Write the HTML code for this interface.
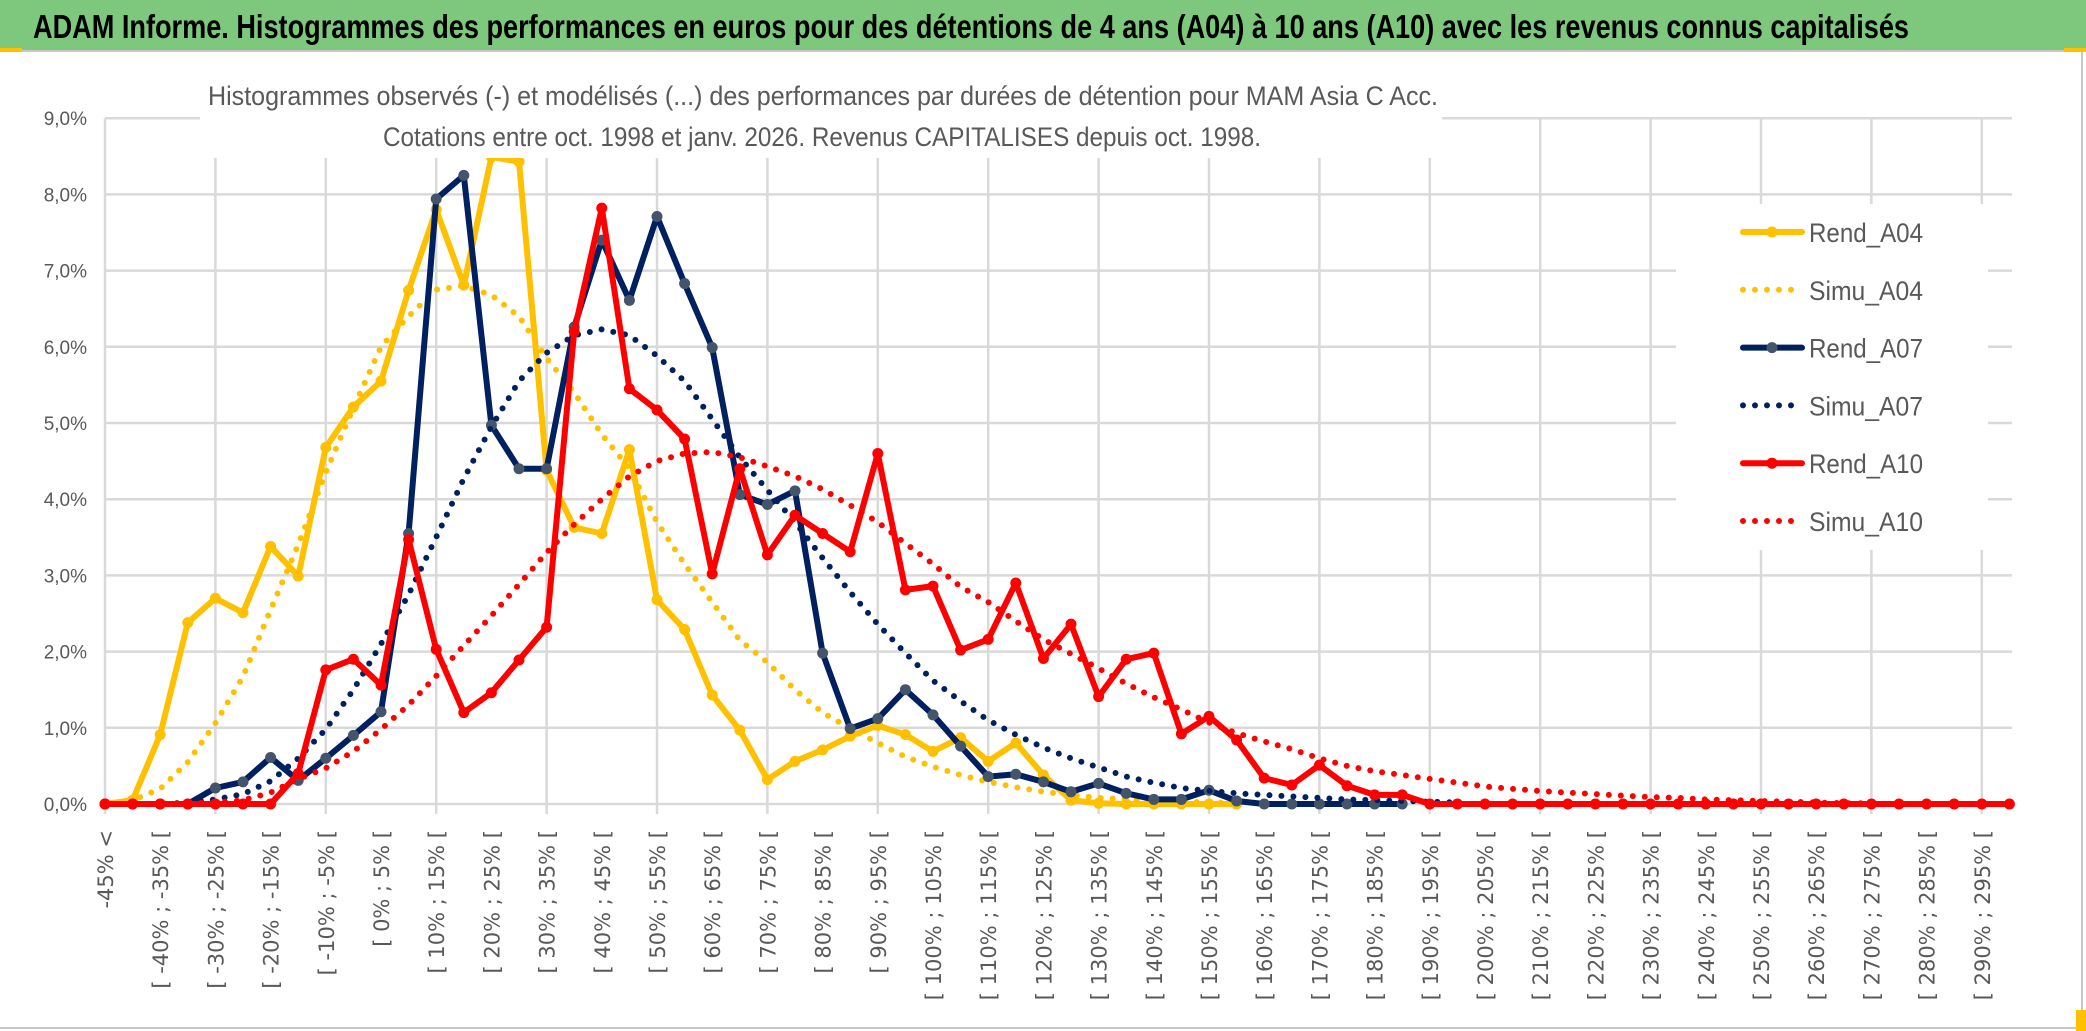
<!DOCTYPE html>
<html><head><meta charset="utf-8"><style>
html,body{margin:0;padding:0;background:#fff;}
svg{display:block;font-family:"Liberation Sans",sans-serif;}
</style></head><body>
<svg id="chart" width="2086" height="1031" viewBox="0 0 2086 1031" xmlns="http://www.w3.org/2000/svg">
<rect x="0" y="0" width="2086" height="1031" fill="#fff"/>
<rect x="0" y="0" width="2086" height="50" fill="#7ec87e"/>
<line x1="0" y1="51" x2="2086" y2="51" stroke="#c8c8c8" stroke-width="2"/>
<text x="33" y="38" font-size="33" font-weight="bold" fill="#000" textLength="1876" lengthAdjust="spacingAndGlyphs">ADAM Informe. Histogrammes des performances en euros pour des détentions de 4 ans (A04) à 10 ans (A10) avec les revenus connus capitalisés</text>
<rect x="0" y="48" width="22" height="4" fill="#ffc000"/>
<line x1="0" y1="1028" x2="2086" y2="1028" stroke="#c8c8c8" stroke-width="2"/>
<line x1="2082" y1="52" x2="2082" y2="1028" stroke="#c8c8c8" stroke-width="2"/>
<rect x="2076" y="1010" width="10" height="21" fill="#ffc000"/>
<rect x="2064" y="48" width="22" height="4" fill="#ffc000"/>
<g id="grid"></g>
<g id="series"></g>
<g id="axes"></g>
<rect x="200" y="60" width="1242" height="98" fill="#fff"/>
<text x="208" y="105" font-size="27" fill="#595959" textLength="1230" lengthAdjust="spacingAndGlyphs">Histogrammes observés (-) et modélisés (...) des performances par durées de détention pour MAM Asia C Acc.</text>
<text x="383" y="146" font-size="27" fill="#595959" textLength="878" lengthAdjust="spacingAndGlyphs">Cotations entre oct. 1998 et janv. 2026. Revenus CAPITALISES depuis oct. 1998.</text>
<g id="legend"></g>
</svg>
<script>
const categories = [];
const catLabels = ["-45% <"];
for (let k = 1; k < 70; k++) { const a = -50 + 5 * k; catLabels.push("[ " + a + "% ; " + (a + 5) + "% ["); }
for (let k = 0; k < 70; k++) categories.push(k);
const yTicks = [0,1,2,3,4,5,6,7,8,9];
const yTickLabels = ["0,0%","1,0%","2,0%","3,0%","4,0%","5,0%","6,0%","7,0%","8,0%","9,0%"];
const rendA04 = [0,0.05,0.91,2.38,2.7,2.51,3.38,2.99,4.68,5.21,5.55,6.74,7.8,6.81,8.49,8.43,4.38,3.63,3.55,4.65,2.68,2.29,1.43,0.97,0.32,0.56,0.71,0.89,1.03,0.91,0.69,0.87,0.56,0.8,0.38,0.05,0.01,0,0,0,0,0];
const simuA04 = [0,0.05,0.2,0.55,1.06,1.67,2.55,3.4,4.35,5.2,6.0,6.4,6.75,6.8,6.68,6.4,5.85,5.4,4.85,4.4,3.7,3.15,2.65,2.15,1.86,1.5,1.2,0.99,0.8,0.62,0.49,0.38,0.29,0.22,0.16,0.12,0.08,0.06,0.04,0.03,0.02,0.01];
const rendA07 = [0,0,0,0,0.21,0.29,0.61,0.31,0.6,0.9,1.21,3.55,7.94,8.25,4.97,4.4,4.4,6.26,7.4,6.61,7.71,6.83,5.99,4.06,3.93,4.11,1.98,0.99,1.12,1.5,1.17,0.76,0.36,0.39,0.29,0.16,0.27,0.14,0.06,0.06,0.18,0.04,0,0,0,0,0,0];
const simuA07 = [0,0,0,0.02,0.06,0.13,0.3,0.6,0.98,1.5,2.1,2.75,3.5,4.27,4.95,5.55,5.92,6.15,6.23,6.15,5.88,5.55,5.05,4.55,4.12,3.7,3.23,2.78,2.36,1.98,1.62,1.35,1.1,0.91,0.74,0.6,0.48,0.36,0.28,0.21,0.17,0.14,0.12,0.1,0.08,0.06,0.05,0.04,0.03,0.02];
const rendA10 = [0,0,0,0,0,0,0,0.4,1.76,1.9,1.56,3.47,2.03,1.2,1.46,1.89,2.32,6.2,7.82,5.45,5.17,4.79,3.02,4.4,3.27,3.79,3.55,3.31,4.6,2.81,2.86,2.02,2.16,2.9,1.91,2.36,1.41,1.9,1.98,0.92,1.15,0.84,0.34,0.25,0.51,0.24,0.12,0.12,0,0,0,0,0,0,0,0,0,0,0,0,0,0,0,0,0,0,0,0,0,0];
const simuA10 = [0,0,0,0.01,0.02,0.05,0.15,0.33,0.47,0.69,0.98,1.3,1.68,2.08,2.47,2.88,3.3,3.67,4.0,4.3,4.5,4.6,4.62,4.55,4.43,4.3,4.13,3.92,3.7,3.42,3.15,2.85,2.65,2.4,2.16,1.97,1.78,1.58,1.4,1.24,1.07,0.93,0.82,0.72,0.6,0.5,0.43,0.38,0.33,0.28,0.23,0.2,0.17,0.15,0.13,0.11,0.09,0.08,0.06,0.05,0.04,0.03,0.02,0.01,0.01];

const NS = "http://www.w3.org/2000/svg";
const X0 = 105, DX = 27.6, Y0 = 804, DY = 76.2;
function xs(k){ return X0 + DX * k; }
function ys(v){ return Y0 - DY * v; }
function mk(tag, attrs, parent){ const e = document.createElementNS(NS, tag); for (const a in attrs) e.setAttribute(a, attrs[a]); parent.appendChild(e); return e; }

const grid = document.getElementById('grid');
yTicks.forEach(function(t){
  const l = mk('line', {x1: X0, y1: ys(t), x2: 2012, y2: ys(t), stroke: '#d9d9d9', 'stroke-width': 2.5}, grid);
  
  
});
for (let k = 0; k < categories.length; k += 4) {
  const l = mk('line', {x1: xs(k), y1: ys(9), x2: xs(k), y2: Y0 + 10, stroke: '#d9d9d9', 'stroke-width': 2.5}, grid);
  
  
}

const axes = document.getElementById('axes');
yTicks.forEach(function(t, i){
  const tx = mk('text', {x: 87, y: ys(t) + 7, 'font-size': 19, fill: '#595959', 'text-anchor': 'end'}, axes);
  tx.textContent = yTickLabels[i];
  
  
});
for (let k = 0; k < catLabels.length; k += 2) {
  const x = xs(k);
  const tx = mk('text', {x: 0, y: 0, 'font-size': 21, 'font-family': '"DejaVu Sans", sans-serif', fill: '#595959', 'text-anchor': 'end', transform: 'translate(' + (x + 8) + ',830) rotate(-90)'}, axes);
  tx.textContent = catLabels[k];
  
  
}

const series = document.getElementById('series');
function pts(arr){ return arr.map(function(v, k){ return xs(k).toFixed(1) + ',' + ys(v).toFixed(1); }).join(' '); }
function solid(arr, color, mcolor, name){
  const g = mk('g', {}, series);
  
  
  mk('polyline', {points: pts(arr), fill: 'none', stroke: color, 'stroke-width': 6, 'stroke-linejoin': 'round', 'stroke-linecap': 'round'}, g);
  arr.forEach(function(v, k){
    const c = mk('circle', {cx: xs(k), cy: ys(v), r: 5.5, fill: mcolor}, g);
    
    
  });
}
function dotted(arr, color, name){
  const p = mk('polyline', {points: pts(arr), fill: 'none', stroke: color, 'stroke-width': 6, 'stroke-dasharray': '0 12', 'stroke-linecap': 'round'}, series);
  
  
}
solid(rendA04, '#ffc000', '#ffc000', 'rend-a04-line');
dotted(simuA04, '#ffc000', 'simu-a04-line');
solid(rendA07, '#002060', '#44546a', 'rend-a07-line');
dotted(simuA07, '#002060', 'simu-a07-line');
solid(rendA10, '#ff0000', '#ff0000', 'rend-a10-line');
dotted(simuA10, '#ff0000', 'simu-a10-line');

const legend = document.getElementById('legend');
mk('rect', {x: 1676, y: 204, width: 312, height: 346, fill: '#fff'}, legend);
const legNames = ['Rend_A04','Simu_A04','Rend_A07','Simu_A07','Rend_A10','Simu_A10'];
const legColors = ['#ffc000','#ffc000','#002060','#002060','#ff0000','#ff0000'];
const legMarker = ['#ffc000',null,'#44546a',null,'#ff0000',null];
legNames.forEach(function(n, i){
  const cy = 232 + i * 57.8;
  const g = mk('g', {}, legend);
  
  
  if (legMarker[i]) {
    mk('line', {x1: 1743, y1: cy, x2: 1802, y2: cy, stroke: legColors[i], 'stroke-width': 6, 'stroke-linecap': 'round'}, g);
    mk('circle', {cx: 1772, cy: cy, r: 5.5, fill: legMarker[i]}, g);
  } else {
    mk('line', {x1: 1743, y1: cy, x2: 1802, y2: cy, stroke: legColors[i], 'stroke-width': 6, 'stroke-dasharray': '0 12', 'stroke-linecap': 'round'}, g);
  }
  const t = mk('text', {x: 1809, y: cy + 10, 'font-size': 27, fill: '#595959', textLength: 114, lengthAdjust: 'spacingAndGlyphs'}, g);
  t.textContent = n;
});
</script>
</body></html>
